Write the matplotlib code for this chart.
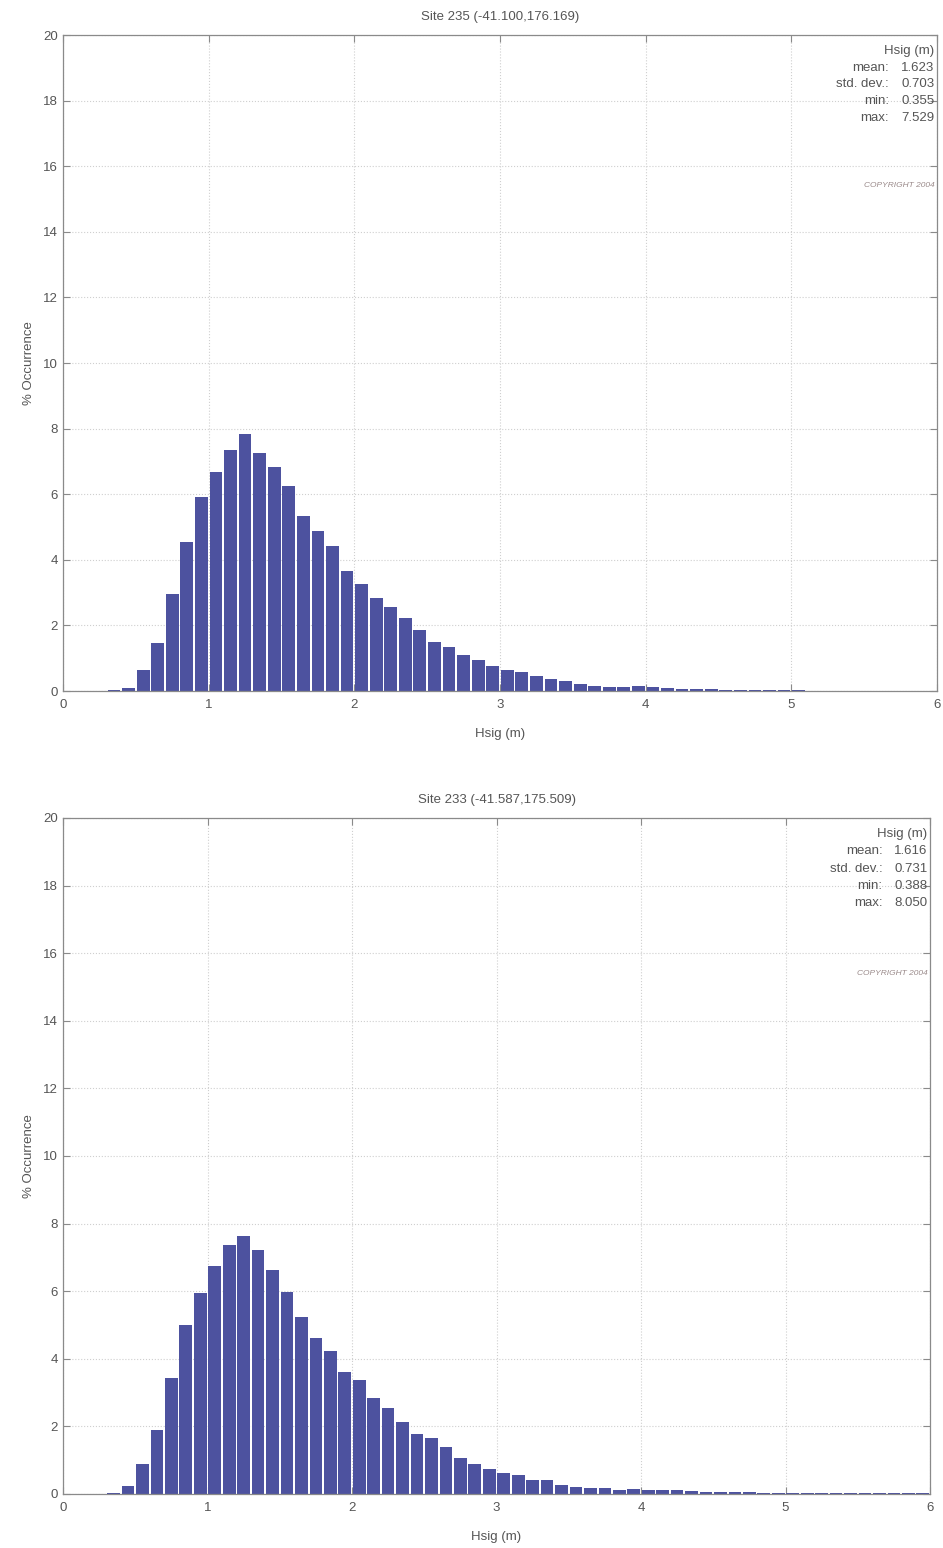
import numpy as np
import matplotlib
matplotlib.use("Agg")
import matplotlib.pyplot as plt

plt.rcParams['font.family'] = ['Liberation Sans', 'DejaVu Sans']

# Bin left edges (m), bin width 0.1
bin_left = [round(0.3 + 0.1 * i, 1) for i in range(57)]  # 0.3 .. 5.9

occ_235 = [0.02, 0.10, 0.65, 1.45, 2.97, 4.55, 5.90, 6.67, 7.36, 7.83,
           7.25, 6.84, 6.25, 5.34, 4.87, 4.42, 3.67, 3.26, 2.83, 2.55,
           2.23, 1.87, 1.50, 1.34, 1.11, 0.93, 0.75, 0.63, 0.57, 0.46,
           0.36, 0.29, 0.22, 0.16, 0.11, 0.13, 0.15, 0.11, 0.08, 0.07,
           0.06, 0.05, 0.04, 0.03, 0.03, 0.02, 0.02, 0.02, 0.01, 0.01,
           0.01, 0.01, 0.01, 0.01, 0.01, 0.01, 0.01]

occ_233 = [0.02, 0.25, 0.89, 1.88, 3.43, 5.00, 5.96, 6.75, 7.38, 7.63,
           7.21, 6.64, 5.98, 5.23, 4.61, 4.22, 3.62, 3.36, 2.83, 2.54,
           2.14, 1.77, 1.65, 1.40, 1.06, 0.90, 0.73, 0.63, 0.56, 0.40,
           0.41, 0.27, 0.21, 0.19, 0.17, 0.13, 0.16, 0.13, 0.11, 0.11,
           0.09, 0.07, 0.07, 0.05, 0.06, 0.04, 0.03, 0.03, 0.02, 0.02,
           0.02, 0.02, 0.02, 0.02, 0.02, 0.02, 0.02]

titles = ["Site 235 (-41.100,176.169)", "Site 233 (-41.587,175.509)"]
stats_labels = ["mean:", "std. dev.:", "min:", "max:"]
stats_235 = ["1.623", "0.703", "0.355", "7.529"]
stats_233 = ["1.616", "0.731", "0.388", "8.050"]

x_ticks = [0, 1, 2, 3, 4, 5, 6]
y_ticks = [0, 2, 4, 6, 8, 10, 12, 14, 16, 18, 20]

bar_color = '#4d529f'
text_color = '#555555'
spine_color = '#8a8a8a'

fig = plt.figure(figsize=(9.43, 15.48), dpi=100)

axes_rects = [
    [63 / 943, 1 - 691 / 1548, (937 - 63) / 943, (691 - 35) / 1548],
    [63 / 943, 1 - 1494 / 1548, (930 - 63) / 943, (1494 - 818) / 1548],
]

datasets = [occ_235, occ_233]
statsets = [stats_235, stats_233]

for rect, occ, title, stats in zip(axes_rects, datasets, titles, statsets):
    ax = fig.add_axes(rect)
    centers = np.array(bin_left) + 0.05
    ax.bar(centers, occ, width=0.088, color=bar_color, edgecolor='none', zorder=2)
    ax.set_xlim(0, 6)
    ax.set_ylim(0, 20)
    ax.set_xticks(x_ticks)
    ax.set_yticks(y_ticks)
    ax.grid(True, linestyle=':', color='#cfcfcf', linewidth=0.8, zorder=0)
    ax.tick_params(direction='in', top=True, right=True, length=5,
                   colors=spine_color, labelcolor=text_color, labelsize=9.5)
    ax.tick_params(axis='x', pad=6)
    for s in ax.spines.values():
        s.set_color(spine_color)
        s.set_linewidth(0.9)
    ax.set_title(title, fontsize=9.5, color=text_color, pad=11)
    ax.set_xlabel("Hsig (m)", fontsize=9.5, color=text_color, labelpad=12)
    ax.set_ylabel("% Occurrence", fontsize=9.5, color=text_color, labelpad=6)

    # statistics box
    ax.text(0.997, 0.985, "Hsig (m)", transform=ax.transAxes, ha='right', va='top',
            fontsize=9.5, color=text_color)
    for i, (lab, val) in enumerate(zip(stats_labels, stats)):
        yy = 0.985 - (i + 1) * 0.0255
        ax.text(0.945, yy, lab, transform=ax.transAxes, ha='right', va='top',
                fontsize=9.5, color=text_color)
        ax.text(0.997, yy, val, transform=ax.transAxes, ha='right', va='top',
                fontsize=9.5, color=text_color)
    ax.text(0.997, 0.77, "COPYRIGHT 2004", transform=ax.transAxes, ha='right',
            va='center', fontsize=6, color='#9a8a8a', style='italic')

fig.savefig("out.png", dpi=100)
